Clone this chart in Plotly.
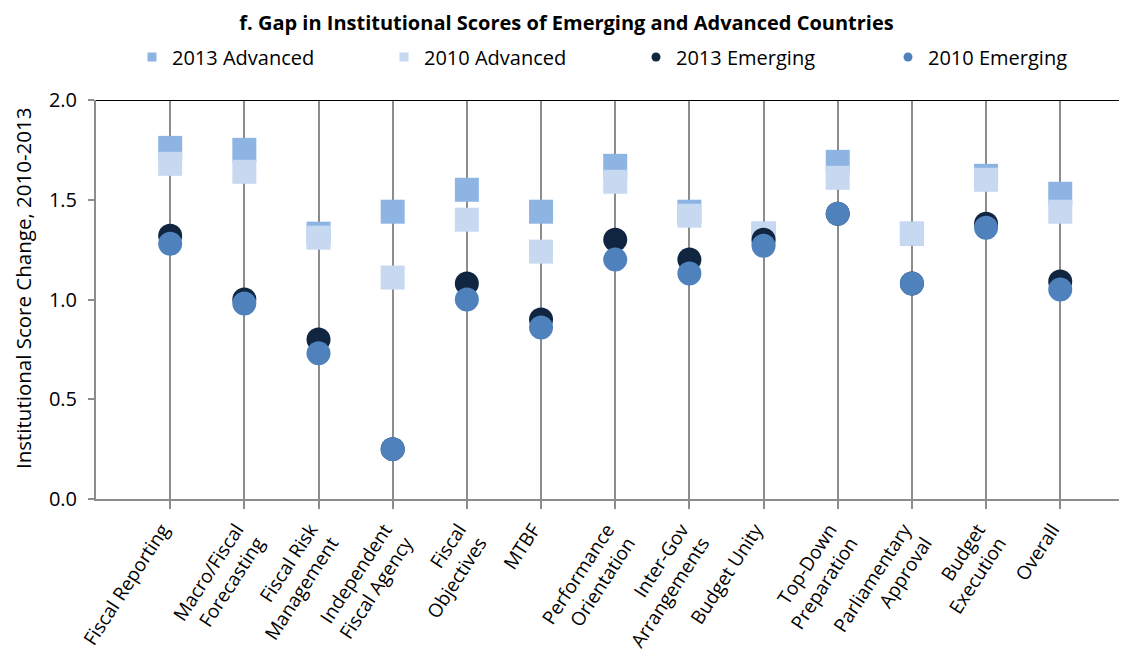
import plotly.graph_objects as go

categories = ["Fiscal Reporting", "Macro/Fiscal<br>Forecasting", "Fiscal Risk<br>Management",
              "Independent<br>Fiscal Agency", "Fiscal<br>Objectives", "MTBF",
              "Performance<br>Orientation", "Inter-Gov<br>Arrangements", "Budget Unity",
              "Top-Down<br>Preparation", "Parliamentary<br>Approval", "Budget<br>Execution", "Overall"]

adv_2013 = [1.76, 1.75, 1.33, 1.44, 1.55, 1.44, 1.67, 1.44, 1.33, 1.69, 1.33, 1.62, 1.53]
adv_2010 = [1.68, 1.64, 1.31, 1.11, 1.40, 1.24, 1.59, 1.42, 1.33, 1.61, 1.33, 1.60, 1.44]
emg_2013 = [1.32, 1.00, 0.80, 0.25, 1.08, 0.90, 1.30, 1.20, 1.30, 1.43, 1.08, 1.38, 1.09]
emg_2010 = [1.28, 0.98, 0.73, 0.25, 1.00, 0.86, 1.20, 1.13, 1.27, 1.43, 1.08, 1.36, 1.05]

series = [
    ("2013 Advanced", adv_2013, "square", "#8EB4E3"),
    ("2010 Advanced", adv_2010, "square", "#C6D9F1"),
    ("2013 Emerging", emg_2013, "circle", "#10253F"),
    ("2010 Emerging", emg_2010, "circle", "#4F81BD"),
]

FONT = "Open Sans"
W, H = 1119, 651   # page has an 8px body margin
x_idx = list(range(len(categories)))

fig = go.Figure()
for name, vals, sym, col in series:
    fig.add_trace(go.Scatter(x=x_idx, y=vals, mode="markers", name=name, showlegend=False,
                             marker=dict(symbol=sym, size=24, color=col, line=dict(width=0))))
for name, vals, sym, col in series:
    fig.add_trace(go.Scatter(x=[None], y=[None], mode="markers", name=name, showlegend=True,
                             marker=dict(symbol=sym, size=9, color=col, line=dict(width=0))))

fig.add_shape(type="line", xref="paper", yref="y", x0=0, x1=1, y0=2, y1=2,
              line=dict(color="black", width=2))
fig.add_shape(type="line", xref="paper", yref="y", x0=0, x1=0, y0=0, y1=-0.04,
              line=dict(color="#8C8C8C", width=2))

fig.add_annotation(text="Institutional Score Change, 2010-2013", textangle=-90,
                   xref="paper", yref="paper", x=(23 - 96) / 1031, y=(499 - 289) / 399,
                   xanchor="center", yanchor="middle", showarrow=False,
                   font=dict(family=FONT, size=20.5, color="black"))

fig.update_layout(
    width=W, height=H,
    margin=dict(l=88, r=0, t=92, b=160, autoexpand=False),
    paper_bgcolor="white", plot_bgcolor="white",
    font=dict(family=FONT, color="black", size=19),
    title=dict(text="<b>f. Gap in Institutional Scores of Emerging and Advanced Countries</b>",
               x=558.5 / W, xref="container", xanchor="center",
               y=1 - 8 / H, yref="container", yanchor="top", pad=dict(t=0, b=0),
               font=dict(family=FONT, size=20, color="black")),
    legend=dict(orientation="h", xref="container", yref="container",
                x=124 / W, xanchor="left", y=1 - 49 / H, yanchor="middle",
                entrywidth=207, entrywidthmode="pixels",
                font=dict(family=FONT, size=20, color="black"),
                bgcolor="rgba(0,0,0,0)"),
    xaxis=dict(range=[-1, 12.9], tickvals=x_idx, ticktext=categories, tickangle=-57,
               showgrid=True, gridcolor="#8C8C8C", gridwidth=2,
               showline=True, linecolor="#8C8C8C", linewidth=2,
               ticks="outside", ticklen=8, tickcolor="#8C8C8C", tickwidth=2,
               ticklabelshift=-8, ticklabelstandoff=2,
               zeroline=False, tickfont=dict(family=FONT, size=19, color="black")),
    yaxis=dict(range=[0, 2], dtick=0.5, tick0=0, tickformat=".1f",
               showgrid=False, zeroline=False,
               showline=True, linecolor="#8C8C8C", linewidth=2,
               ticks="outside", ticklen=6, tickcolor="#8C8C8C", tickwidth=2,
               ticklabelstandoff=7,
               tickfont=dict(family=FONT, size=20, color="black")),
)

fig.write_html("out.html")
